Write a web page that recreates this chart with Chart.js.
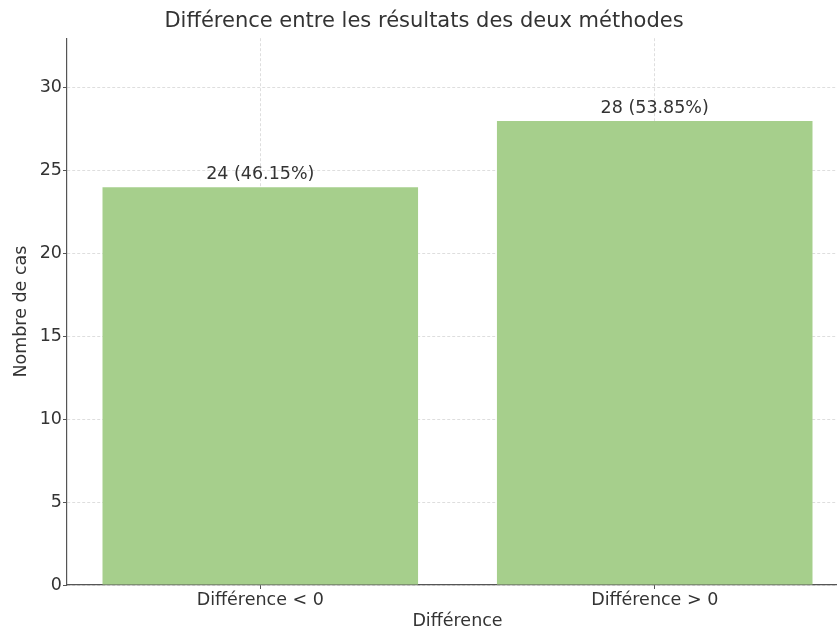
<!DOCTYPE html>
<html>
<head>
<meta charset="utf-8">
<script src="https://cdn.jsdelivr.net/npm/chart.js@4/dist/chart.umd.min.js"></script>
<style>
  html, body { margin: 0; padding: 0; background: #fff; overflow: hidden; }
  #wrap { width: 837px; height: 630px; overflow: hidden; }
</style>
</head>
<body>
<div id="wrap"><canvas id="diffChart" width="870" height="630"></canvas></div>
<script>
// données
const categories = ['Différence < 0', 'Différence > 0'];
const nbCas = [24, 28];
const pourcentages = ['46.15%', '53.85%'];
const yTicks = [0, 5, 10, 15, 20, 25, 30];

const BAR_COLOR = '#a6cf8c';
const TEXT = '#333333';
const FONT = 'DejaVu Sans';
const SIZE = 17.5;

// étiquettes au-dessus des barres
const etiquettesBarres = {
  id: 'etiquettesBarres',
  afterDatasetsDraw(chart) {
    const { ctx } = chart;
    const meta = chart.getDatasetMeta(0);
    ctx.save();
    ctx.font = SIZE + 'px "' + FONT + '"';
    ctx.fillStyle = TEXT;
    ctx.textAlign = 'center';
    ctx.textBaseline = 'bottom';
    meta.data.forEach((bar, i) => {
      ctx.fillText(nbCas[i] + ' (' + pourcentages[i] + ')', bar.x, bar.y - 4);
    });
    ctx.restore();
  }
};

new Chart(document.getElementById('diffChart'), {
  type: 'bar',
  data: {
    datasets: [{
      data: nbCas.map((v, i) => ({ x: i, y: v })),
      backgroundColor: BAR_COLOR,
      borderWidth: 0,
      barPercentage: 0.8,
      categoryPercentage: 1.0,
    }]
  },
  options: {
    responsive: false,
    animation: false,
    devicePixelRatio: 1,
    layout: { padding: { top: 0, right: 22, bottom: 0, left: 0 } },
    plugins: {
      legend: { display: false },
      tooltip: { enabled: false },
      title: {
        display: true,
        text: 'Différence entre les résultats des deux méthodes',
        color: TEXT,
        font: { family: FONT, size: 21, weight: 'normal' },
        padding: { top: 9, bottom: 4 }
      }
    },
    scales: {
      x: {
        type: 'linear',
        z: 1,
        min: -0.49,
        max: 1.49,
        offset: false,
        grid: {
          offset: false,
          color: 'rgba(0,0,0,0.13)',
          tickColor: '#555',
          tickLength: 4,
        },
        border: { color: '#555', width: 1.2, dash: [3, 2] },
        afterBuildTicks(scale) { scale.ticks = categories.map((c, i) => ({ value: i })); },
        ticks: {
          color: TEXT,
          font: { family: FONT, size: SIZE },
          padding: 1,
          maxRotation: 0,
          callback: v => categories[v]
        },
        title: {
          display: true,
          text: 'Différence',
          color: TEXT,
          font: { family: FONT, size: SIZE, lineHeight: 1.0 },
          padding: { top: 4, bottom: 0 }
        },
        afterFit(scale) { scale.height = 45; }
      },
      y: {
        z: 1,
        min: 0,
        max: 33,
        grid: {
          color: 'rgba(0,0,0,0.13)',
          tickColor: '#555',
          tickLength: 4,
        },
        border: { color: '#555', width: 1.2, dash: [3, 2] },
        ticks: { color: TEXT, font: { family: FONT, size: SIZE }, padding: 1 },
        afterBuildTicks(scale) { scale.ticks = yTicks.map(v => ({ value: v })); },
        title: {
          display: true,
          text: 'Nombre de cas',
          color: TEXT,
          font: { family: FONT, size: SIZE },
          padding: { top: 11, bottom: 0 }
        },
        afterFit(scale) { scale.width = 67; }
      }
    }
  },
  plugins: [etiquettesBarres]
});
</script>
</body>
</html>
